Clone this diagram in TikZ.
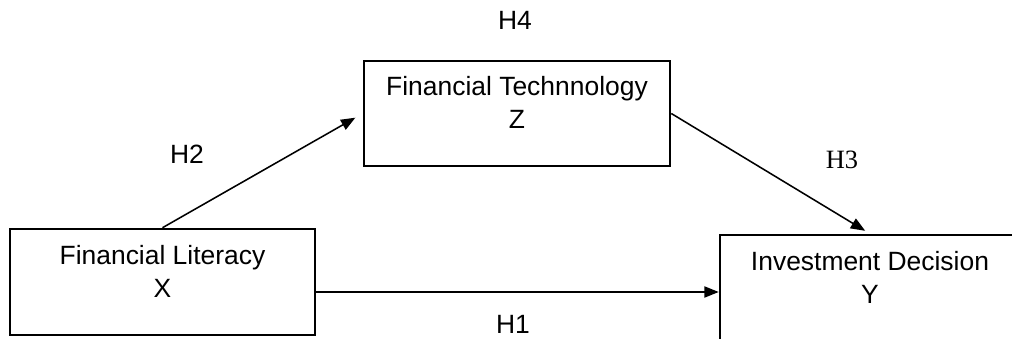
\documentclass[tikz,border=0pt]{standalone}
\usepackage{fontspec}
\setmainfont{Liberation Sans}
\newfontfamily\seriffont{Liberation Serif}
\usetikzlibrary{arrows.meta}

\begin{document}
\begin{tikzpicture}[x=0.025cm, y=-0.025cm,
	every node/.style={font=\fontsize{18.8}{23}\selectfont},
	var/.style={draw, line width=1.8pt, inner sep=0pt},
	txt/.style={align=center, inner sep=0pt},
	arr/.style={-{Triangle[length=0.36cm, width=0.28cm]}, line width=1.1pt}]
	\useasboundingbox (0,0) rectangle (1012,339);
	% the three variable boxes
	\node[var, minimum width=7.625cm, minimum height=2.65cm] (lit) at (162.5,282) {};
	\node[var, minimum width=7.65cm, minimum height=2.625cm] (tech) at (517,113.5) {};
	\node[var, minimum width=7.5cm, minimum height=2.85cm] (dec) at (870,292) {};
	\node[txt] (litname) at (162.5,271.5) {Financial Literacy\\X};
	\node[txt] (techname) at (517,102.5) {Financial Technnology\\Z};
	\node[txt] (decname) at (870,277.5) {Investment Decision\\Y};
	% paths between them
	\draw[arr, shorten >=6pt] (lit.north) -- (tech.west);
	\draw[arr, shorten >=4pt] (tech.east) -- (dec.north);
	\draw[arr] (lit.east |- dec.west) -- (dec.west);
	% hypothesis labels
	\node (h4) at (515,20) {H4};
	\node (h2) at (187,154) {H2};
	\node[font=\seriffont\fontsize{18.8}{23}\selectfont] (h3) at (842,160) {H3};
	\node (h1) at (513,324) {H1};
\end{tikzpicture}
\end{document}
